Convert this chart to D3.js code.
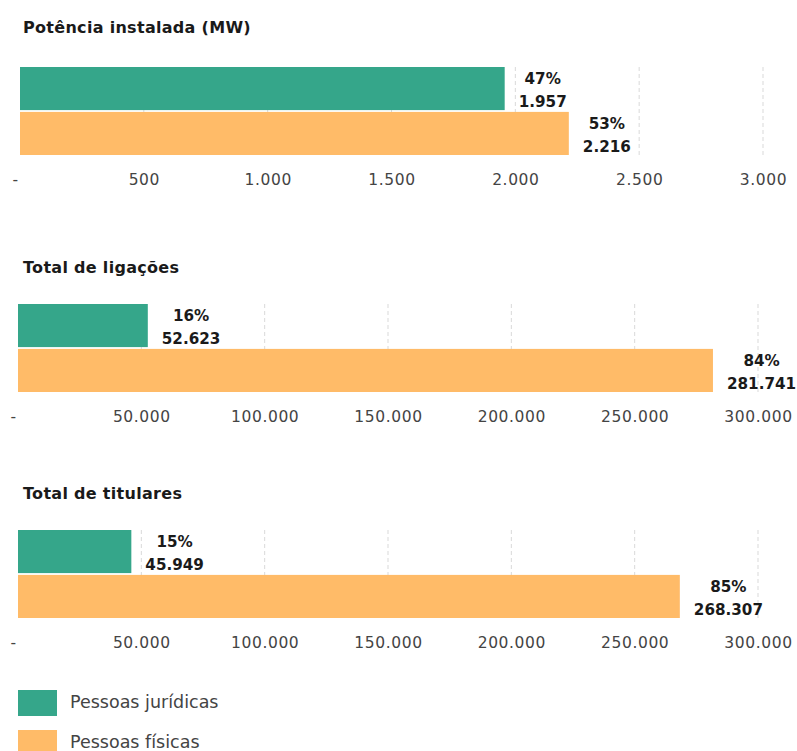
<!DOCTYPE html>
<html><head><meta charset="utf-8">
<script src="https://cdn.jsdelivr.net/npm/d3@7"></script>
<style>
body{margin:0;background:#fff;}
svg{display:block;font-family:"DejaVu Sans",sans-serif;}
</style></head>
<body><svg id="c" width="797" height="751"></svg>
<script>
// ---- data ----
const categories = ["Potência instalada (MW)", "Total de ligações", "Total de titulares"];
const series = ["Pessoas jurídicas", "Pessoas físicas"];
const juridicas = [1957, 52623, 45949];
const fisicas = [2216, 281741, 268307];
const pctJuridicas = ["47%", "16%", "15%"];
const pctFisicas = ["53%", "84%", "85%"];
const axisMax = [3000, 300000, 300000];
const ticksSmall = [0, 500, 1000, 1500, 2000, 2500, 3000];
const ticksLarge = [0, 50000, 100000, 150000, 200000, 250000, 300000];
const tickSets = [ticksSmall, ticksLarge, ticksLarge];

// ---- layout ----
const colors = ["#35a68a", "#ffbb68"];
const panels = [
  {titleY: 27, top: 67, x0: 20, x1: 763},
  {titleY: 267, top: 304, x0: 18, x1: 758},
  {titleY: 493, top: 530, x0: 18, x1: 758}
];
const barBlock = 88;

const loc = d3.formatLocale({decimal: ",", thousands: ".", grouping: [3], currency: ["R$", ""]});
const fmt = loc.format(",d");

const svg = d3.select("#c");

categories.forEach((cat, i) => {
  const p = panels[i];
  const g = svg.append("g");
  const x = d3.scaleLinear().domain([0, axisMax[i]]).range([p.x0, p.x1]);
  const y = d3.scaleBand().domain(series).range([p.top, p.top + barBlock]).paddingInner(0.04);

  g.append("text").attr("x", 23).attr("y", p.titleY).attr("dy", "0.35em")
    .attr("font-weight", 700).attr("font-size", 16).attr("letter-spacing", 0.3)
    .attr("fill", "#1a1a1a").text(cat);

  // gridlines
  g.selectAll("line.grid").data(tickSets[i].filter(d => d > 0)).join("line")
    .attr("x1", d => x(d)).attr("x2", d => x(d))
    .attr("y1", p.top).attr("y2", p.top + barBlock)
    .attr("stroke", "#d9d9d9").attr("stroke-dasharray", "4,3").attr("stroke-width", 1);

  // axis
  const axis = d3.axisBottom(x).tickValues(tickSets[i]).tickSize(0)
    .tickFormat(d => d === 0 ? "-" : fmt(d));
  const ag = g.append("g").attr("transform", `translate(0,${p.top + barBlock + 16})`).call(axis);
  ag.select(".domain").remove();
  ag.selectAll("text").attr("font-family", "DejaVu Sans, sans-serif").attr("font-size", 15.5)
    .attr("letter-spacing", 0.6).attr("fill", "#444");
  ag.selectAll(".tick").filter(d => d === 0).select("text").attr("dx", -5);

  const vals = [juridicas[i], fisicas[i]];
  const pcts = [pctJuridicas[i], pctFisicas[i]];
  series.forEach((s, k) => {
    g.append("rect").attr("x", x(0)).attr("y", y(s))
      .attr("width", x(vals[k]) - x(0)).attr("height", y.bandwidth())
      .attr("fill", colors[k]);
    const cy = y(s) + y.bandwidth() / 2;
    const lg = g.append("g").attr("font-weight", 700).attr("font-size", 15.2)
      .attr("fill", "#1a1a1a").attr("text-anchor", "middle");
    const t2 = lg.append("text").attr("y", cy + 13).attr("dy", "0.35em").text(fmt(vals[k]));
    const w = t2.node().getComputedTextLength();
    const cx = x(vals[k]) + 14 + w / 2;
    t2.attr("x", cx);
    lg.append("text").attr("x", cx).attr("y", cy - 10).attr("dy", "0.35em").text(pcts[k]);
  });
});

// legend
const leg = svg.append("g");
series.forEach((s, k) => {
  const ly = 690 + k * 40;
  leg.append("rect").attr("x", 18).attr("y", ly).attr("width", 39).attr("height", 26).attr("fill", colors[k]);
  leg.append("text").attr("x", 70).attr("y", ly + 12).attr("dy", "0.35em")
    .attr("font-size", 17.5).attr("fill", "#444").text(s);
});
</script></body></html>
